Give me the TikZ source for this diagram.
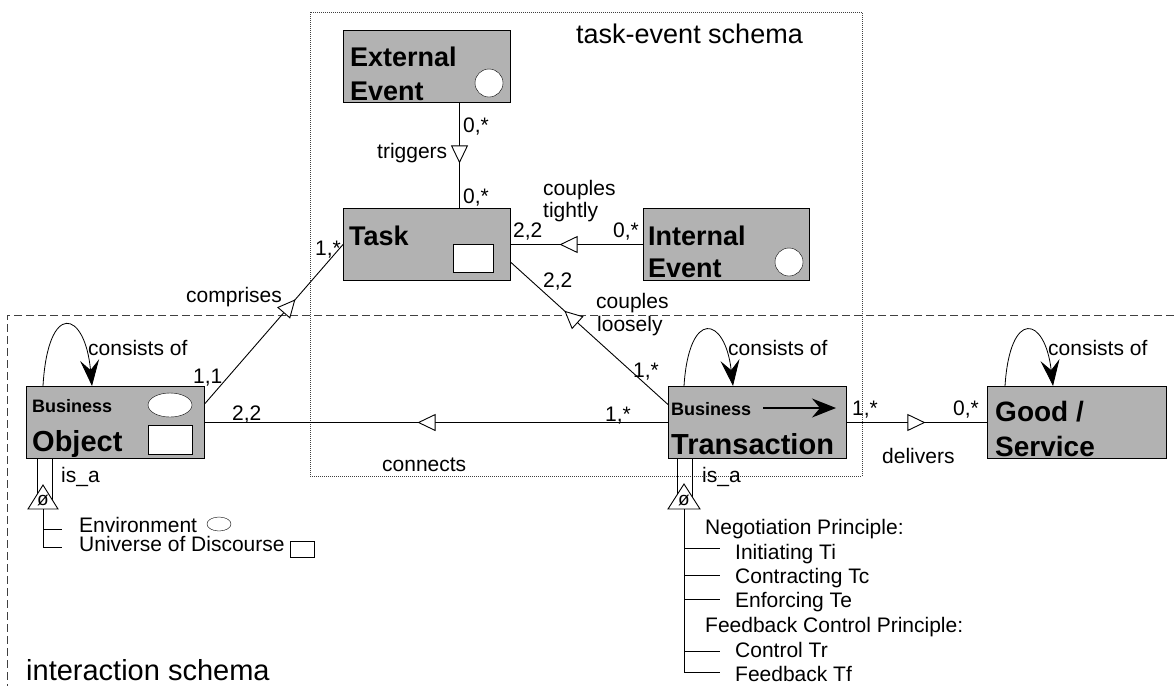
\documentclass[tikz,border=0pt]{standalone}
\usepackage{fontspec}
\setmainfont{Liberation Sans}
\usetikzlibrary{arrows.meta, decorations.markings}
\definecolor{boxgray}{gray}{0.7}
\tikzset{
  entity/.style={draw, line width=1pt, fill=boxgray, anchor=north west, inner sep=0pt, minimum height=72pt},
  ename/.style={inner sep=0pt, anchor=base west, font=\fontsize{#1}{#1}\selectfont\bfseries},
  lbl/.style={inner sep=0pt, anchor=base west, font=\fontsize{21}{24}\selectfont},
  title/.style={inner sep=0pt, anchor=base west, font=\fontsize{#1}{#1}\selectfont},
  rel/.style={line width=0.9pt, postaction={decorate},
    decoration={markings, mark=at position #1 with {\arrow{Triangle[open, fill=white, length=18pt, width=17pt]}}}},
  part/.style={line width=0.8pt, -{Stealth[length=26pt, width=19pt, inset=10pt]}},
  isaline/.style={line width=0.9pt}
}
\begin{document}
\begin{tikzpicture}[x=1pt, y=-1pt]
  \useasboundingbox (0,0) rectangle (1174,686);
  % schema frames
  \draw[black!75, line width=0.8pt, dash pattern=on 1pt off 1pt] (310,12) rectangle (862,476);
  \draw[black!75, line width=0.8pt, dash pattern=on 8pt off 4pt] (1174,315) -- (7,315) -- (7,686);
  \node[title=27] (te-title) at (576,43) {task-event schema};
  \node[title=29] (ia-title) at (26,680) {interaction schema};

  % entities
  \node[entity, minimum width=167pt] (ee) at (343,30) {};
  \node[entity, minimum width=167pt] (tk) at (343,208) {};
  \node[entity, minimum width=166pt] (ie) at (643,208) {};
  \node[entity, minimum width=178pt] (bo) at (26,386) {};
  \node[entity, minimum width=178pt] (bt) at (668,386) {};
  \node[entity, minimum width=179pt] (gs) at (987,386) {};

  \node[ename=27] (ee-t1) at (350,66) {External};
  \node[ename=27] (ee-t2) at (350,100) {Event};
  \draw[fill=white] (489,83) circle[radius=14];
  \node[ename=27] (tk-t) at (349,245) {Task};
  \draw[fill=white] (453,244) rectangle (493,272);
  \node[ename=27] (ie-t1) at (648,245) {Internal};
  \node[ename=27] (ie-t2) at (648,277) {Event};
  \draw[fill=white] (789,262) circle[radius=14];
  \node[ename=18] (bo-t1) at (32,412) {Business};
  \node[ename=29] (bo-t2) at (32,451) {Object};
  \draw[fill=white] (170,405) ellipse[x radius=22, y radius=12];
  \draw[fill=white] (148,425) rectangle (192,454);
  \node[ename=18] (bt-t1) at (671,415) {Business};
  \node[ename=29] (bt-t2) at (671,454) {Transaction};
  \draw[line width=1.2pt, -{Stealth[length=24pt, width=19pt, inset=8pt]}] (763,408) -- (836,408);
  \node[ename=28] (gs-t1) at (995,421) {Good /};
  \node[ename=28] (gs-t2) at (995,456) {Service};

  % relationships
  \draw[rel=0.575] ([xshift=32.5pt]ee.south) -- ([xshift=32.5pt]tk.north);
  \draw[rel=0.632] (ie.west) -- (tk.east);
  \draw[rel=0.66] ([yshift=18pt]bt.west) -- ([yshift=-18pt]tk.east);
  \draw[rel=0.655] ([yshift=19pt]bo.east) -- (tk.west);
  \draw[rel=0.541] (bt.west) -- (bo.east);
  \draw[rel=0.56] (bt.east) -- (gs.west);

  \node[lbl] (c-ee) at (463,132) {0,*};
  \node[lbl] (l-trig) at (377,158) {triggers};
  \node[lbl] (c-tk1) at (463,203) {0,*};
  \node[lbl] (l-tight1) at (543,195) {couples};
  \node[lbl] (l-tight2) at (543,217) {tightly};
  \node[lbl] (c-tk2) at (513,237) {2,2};
  \node[lbl] (c-ie) at (613,237) {0,*};
  \node[lbl] (c-tk3) at (315,255) {1,*};
  \node[lbl] (l-comp) at (186,302) {comprises};
  \node[lbl] (c-tk4) at (543,287) {2,2};
  \node[lbl] (l-loose1) at (596,308) {couples};
  \node[lbl] (l-loose2) at (597,331) {loosely};
  \node[lbl] (c-bt1) at (633,377) {1,*};
  \node[lbl] (c-bo1) at (193,383) {1,1};
  \node[lbl] (c-bo2) at (232,420) {2,2};
  \node[lbl] (c-bt2) at (605,421) {1,*};
  \node[lbl] (l-conn) at (382,471) {connects};
  \node[lbl] (c-bt3) at (852,415) {1,*};
  \node[lbl] (c-gs) at (953,415) {0,*};
  \node[lbl] (l-deliv) at (882,463) {delivers};

  % consists of
  \draw[part] ([xshift=17pt]bo.north west) .. controls +(5,-86) and +(-7,-76) .. ([xshift=66pt]bo.north west);
  \draw[part] ([xshift=16pt]bt.north west) .. controls +(5,-78) and +(-8,-70) .. ([xshift=65pt]bt.north west);
  \draw[part] ([xshift=18pt]gs.north west) .. controls +(5,-78) and +(-8,-70) .. ([xshift=66pt]gs.north west);
  \node[lbl] (l-bo) at (88,355) {consists of};
  \node[lbl] (l-bt) at (728,355) {consists of};
  \node[lbl] (l-gs) at (1048,355) {consists of};

  % is_a of business object
  \draw[isaline] ([xshift=11pt]bo.south west) -- ++(0,45);
  \draw[isaline] ([xshift=26pt]bo.south west) -- ++(0,45);
  \draw[isaline, fill=white] (43,485) -- (28,509) -- (58,509) -- cycle;
  \node[inner sep=0pt, font=\fontsize{19}{19}\selectfont] (bo-isa) at (43,500) {ø};
  \node[lbl] (l-bo-isa) at (61,482) {is\_a};
  \coordinate (bo-root) at (43,509);
  \draw[isaline] (bo-root) |- (62,547);
  \draw[isaline] (43,529) -- (62,529);
  \node[lbl] (env) at (79,532) {Environment};
  \draw (219,524) ellipse[x radius=12, y radius=7];
  \node[lbl] (uod) at (79,551) {Universe of Discourse};
  \draw (290,541) rectangle (314,557);

  % is_a of business transaction
  \draw[isaline] ([xshift=9pt]bt.south west) -- ++(0,45);
  \draw[isaline] ([xshift=24pt]bt.south west) -- ++(0,45);
  \draw[isaline, fill=white] (684,484) -- (668,509) -- (700,509) -- cycle;
  \node[inner sep=0pt, font=\fontsize{19}{19}\selectfont] (bt-isa) at (684,500) {ø};
  \node[lbl] (l-bt-isa) at (702,482) {is\_a};
  \coordinate (bt-root) at (684,509);
  \draw[isaline] (bt-root) |- (720,672);
  \draw[isaline] (684,548) -- (720,548);
  \draw[isaline] (684,575) -- (720,575);
  \draw[isaline] (684,599) -- (720,599);
  \draw[isaline] (684,651) -- (720,651);
  \node[lbl] (neg) at (705,534) {Negotiation Principle:};
  \node[lbl] (ti) at (735,559) {Initiating Ti};
  \node[lbl] (tc) at (735,583) {Contracting Tc};
  \node[lbl] (te) at (735,607) {Enforcing Te};
  \node[lbl] (fbc) at (705,632) {Feedback Control Principle:};
  \node[lbl] (tr) at (735,657) {Control Tr};
  \node[lbl] (tf) at (735,681) {Feedback Tf};
\end{tikzpicture}
\end{document}
